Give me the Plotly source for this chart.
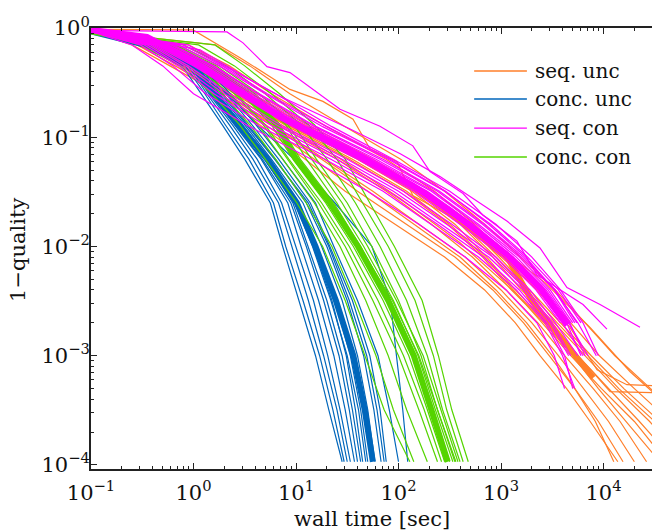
import plotly.graph_objects as go

# ---------------------------------------------------------------------------
# Convergence runs: wall time [s] at which each run reached a quality level.
# ---------------------------------------------------------------------------

# quality levels (1 - quality) sampled for the concurrent solvers
q_conc = [0.93, 0.70, 0.45, 0.25, 0.13, 0.063, 0.025, 0.01, 0.0032, 0.001, 0.00032, 0.000107]
# quality levels sampled for the sequential solvers
q_seq = [0.93, 0.70, 0.45, 0.25, 0.125, 0.063, 0.032, 0.016, 0.008, 0.004, 0.002,
         0.001, 0.0005, 0.00025, 0.000107]

# concurrent, unconstrained
conc_unc_runs = [
    [0.1, 0.295, 0.776, 1.20, 1.91, 3.16, 5.62, 7.41, 10.7, 15.5, 20.9, 28.2],
    [0.1, 0.309, 0.832, 1.29, 2.04, 3.47, 6.03, 7.94, 11.7, 17.0, 22.9, 29.5],
    [0.1, 0.324, 0.891, 1.35, 2.24, 3.80, 6.76, 9.12, 13.2, 18.6, 25.1, 31.6],
    [0.1, 0.302, 0.933, 1.41, 2.40, 4.17, 7.24, 10.0, 14.8, 20.4, 26.9, 33.9],
    [0.1, 0.339, 1.00, 1.48, 2.51, 4.57, 8.32, 11.2, 16.6, 23.4, 30.2, 37.2],
    [0.1, 0.355, 1.05, 1.62, 2.82, 5.01, 9.33, 13.2, 20.0, 28.2, 35.5, 42.7],
    [0.1, 0.331, 1.10, 1.70, 3.02, 5.50, 10.7, 15.8, 24.0, 33.9, 42.7, 50.1],
    [0.1, 0.372, 1.15, 1.78, 3.16, 5.75, 11.7, 17.8, 28.2, 39.8, 50.1, 58.9],
    [0.1, 0.380, 1.17, 1.95, 3.39, 6.31, 12.6, 20.0, 31.6, 45.7, 57.5, 67.6],
    [0.1, 0.398, 1.20, 2.09, 3.72, 6.76, 13.8, 21.4, 35.5, 52.5, 66.1, 75.9],
    [0.1, 0.427, 1.26, 2.29, 4.07, 7.41, 15.5, 23.4, 39.8, 63.1, 81.3, 100.0],
    [0.1, 0.407, 1.17, 2.14, 4.17, 9.55, 24.0, 55.0, 83.2, 95.5, 110.0, 123.0],
    [0.1, 0.347, 1.02, 1.58, 2.69, 4.90, 9.77, 14.5, 21.9, 31.6, 40.7, 47.9],
    [0.1, 0.316, 0.955, 1.45, 2.57, 4.68, 8.91, 12.6, 18.6, 26.3, 33.1, 39.8],
    [0.1, 0.363, 1.07, 1.74, 2.95, 5.25, 10.0, 14.8, 22.4, 30.9, 38.0, 44.7],
    [0.1, 0.389, 1.12, 1.86, 3.31, 6.17, 13.2, 20.9, 33.1, 49.0, 61.7, 72.4],
]
conc_unc_median = [0.1, 0.339, 1.05, 1.55, 2.75, 5.25, 10.2, 15.5, 24.5, 36.3, 46.8, 56.2]

# concurrent, constrained
conc_con_runs = [
    [0.1, 0.302, 0.741, 1.51, 2.82, 5.01, 10.2, 18.2, 30.2, 46.8, 72.4, 129.0],
    [0.1, 0.355, 0.891, 1.91, 3.55, 6.31, 12.6, 22.4, 37.2, 60.3, 89.1, 141.0],
    [0.1, 0.398, 1.05, 2.24, 4.27, 7.41, 15.1, 26.9, 47.9, 79.4, 120.0, 191.0],
    [0.1, 0.447, 1.15, 2.63, 5.01, 8.51, 17.8, 33.1, 63.1, 112.0, 178.0, 263.0],
    [0.1, 0.501, 1.26, 2.95, 5.75, 9.33, 19.5, 36.3, 70.8, 126.0, 191.0, 282.0],
    [0.1, 0.562, 1.38, 3.39, 6.92, 11.0, 23.4, 42.7, 83.2, 145.0, 214.0, 316.0],
    [0.1, 0.603, 1.51, 3.80, 7.94, 12.6, 25.1, 45.7, 89.1, 155.0, 229.0, 339.0],
    [0.1, 0.525, 1.32, 3.16, 6.31, 10.5, 22.4, 41.7, 87.1, 158.0, 240.0, 363.0],
    [0.1, 0.708, 1.78, 4.37, 9.55, 15.8, 31.6, 55.0, 100.0, 166.0, 240.0, 355.0],
    [0.1, 0.794, 2.09, 5.01, 11.2, 20.0, 38.0, 66.1, 120.0, 191.0, 269.0, 398.0],
    [0.1, 1.12, 2.51, 5.75, 13.2, 25.1, 44.7, 79.4, 145.0, 219.0, 295.0, 427.0],
    [0.1, 1.62, 3.16, 6.92, 15.1, 30.2, 52.5, 91.2, 170.0, 245.0, 331.0, 479.0],
    [0.1, 0.479, 1.20, 2.51, 4.79, 8.32, 16.6, 30.2, 56.2, 100.0, 158.0, 240.0],
    [0.1, 0.631, 1.66, 3.98, 8.32, 14.1, 28.2, 50.1, 95.5, 174.0, 257.0, 380.0],
]
conc_con_median = [0.1, 0.60, 1.42, 3.24, 6.53, 10.0, 21.4, 40.3, 79.4, 141.0, 209.0, 302.0]

# sequential, constrained
seq_con_runs = [
    [0.1, 0.251, 0.501, 1.0, 3.55, 14.1, 50.1, 158, 447, 1120, 2240, 3310, 4170],
    [0.1, 0.302, 0.631, 1.32, 4.47, 19.1, 70.8, 209, 603, 1410, 2690, 3980, 5250],
    [0.1, 0.355, 0.759, 1.78, 6.03, 25.1, 89.1, 263, 759, 1660, 3020, 4570],
    [0.1, 0.398, 0.891, 2.24, 7.59, 31.6, 112, 331, 891, 1910, 3390, 5620],
    [0.1, 0.447, 1.05, 2.63, 9.33, 39.8, 141, 398, 1050, 2190, 3800],
    [0.1, 0.501, 1.20, 3.16, 11.2, 50.1, 178, 501, 1260, 2630, 4570, 7080],
    [0.1, 0.525, 1.32, 3.55, 12.6, 56.2, 209, 575, 1410, 2880, 4790],
    [0.1, 0.603, 1.51, 4.17, 15.1, 66.1, 240, 661, 1580, 3310, 5620, 8510],
    [0.1, 0.708, 1.78, 5.01, 18.2, 79.4, 282, 794, 1820, 3630, 6030],
    [0.1, 0.891, 2.0, 6.31, 22.4, 89.1, 316, 891, 2000, 3800, 6310, 8910],
    [0.1, 0.417, 1.0, 2.82, 10.0, 41.7, 151, 437, 1120, 2290, 3980, 6310],
    [0.1, 0.562, 1.41, 3.80, 13.8, 60.3, 219, 603, 1510, 3020, 5010],
    [0.1, 0.331, 0.708, 1.58, 5.25, 21.9, 79.4, 240, 676, 1510, 2820, 4170, 5010],
    [0.1, 0.794, 1.91, 5.25, 20.0, 83.2, 288, 759, 1740, 3310, 5250],
    [0.1, 0.380, 0.832, 2.0, 6.92, 28.2, 100, 295, 832, 1780, 3160, 4790],
    [0.1, 0.468, 1.12, 2.88, 10.0, 43.7, 158, 447, 1150, 2400, 4170],
    [0.1, 0.550, 1.26, 3.39, 12.0, 52.5, 191, 537, 1320, 2750, 4680, 6610],
    [0.1, 0.437, 1.10, 3.02, 10.5, 47.9, 182, 525, 1320, 2690],
    [0.1, 0.501, 1.23, 3.31, 11.5, 50.1, 186, 513, 1290, 2570, 4370, 6030],
    [0.1, 0.631, 1.58, 4.37, 15.8, 70.8, 251, 692, 1660, 3390, 5500],
]
# two slow sequential constrained runs, recorded at their own quality values
seq_con_slow_t = [
    [0.1, 0.925, 2.12, 3.04, 5.21, 8.73, 14.7, 26.9, 65.9, 138, 203, 426, 667, 1430,
     2240, 3520, 6310, 10800],
    [0.1, 1.16, 3.56, 6.98, 33.7, 104, 254, 533, 1150, 2400, 4400, 9250, 22700],
]
seq_con_slow_q = [
    [0.95, 0.92, 0.92, 0.731, 0.443, 0.391, 0.274, 0.180, 0.126, 0.0834, 0.0484,
     0.0305, 0.0193, 0.0112, 0.00551, 0.00421, 0.00294, 0.00175],
    [0.96, 0.631, 0.338, 0.237, 0.119, 0.0705, 0.0436, 0.0275, 0.0170, 0.00969,
     0.00421, 0.00294, 0.00182],
]
seq_con_median_t = [0.1, 0.352, 0.925, 2.84, 6.98, 31.5, 138, 318, 1150, 2400, 4400]
seq_con_median_q = [0.96, 0.829, 0.513, 0.257, 0.153, 0.0782, 0.0361, 0.0214, 0.00837,
                    0.00421, 0.0019]

# sequential, unconstrained
seq_unc_runs = [
    [0.1, 0.251, 0.589, 1.82, 4.68, 12.3, 30.2, 93.3, 282, 692, 1380, 2400, 4370, 7410, 13800],
    [0.1, 0.282, 0.661, 2.0, 5.37, 15.1, 39.8, 120, 355, 832, 1660, 2950, 5250, 8910, 15500],
    [0.1, 0.316, 0.759, 2.14, 6.31, 19.1, 56.2, 158, 447, 1000, 2000, 3630, 6310, 11200, 20000],
    [0.1, 0.355, 0.871, 2.29, 7.24, 25.1, 75.9, 209, 525, 1120, 2290, 4170, 7940, 14500, 26300],
    [0.1, 0.398, 1.0, 2.51, 8.32, 33.1, 112, 302, 661, 1260, 2630, 5010, 8910, 16600, 35500],
    [0.1, 0.447, 1.10, 2.82, 9.55, 39.8, 135, 355, 724, 1380, 2820, 5620, 11200, 22400, 50100],
    [0.1, 0.501, 1.26, 3.31, 11.2, 45.7, 158, 398, 832, 1580, 3310, 6610, 13200, 28200, 63100],
    [0.1, 0.631, 1.58, 4.17, 14.1, 56.2, 182, 457, 955, 1910, 3800, 7590, 15800, 35500, 79400],
    [0.1, 0.891, 2.24, 5.75, 20.0, 75.9, 224, 550, 1170, 2400, 4790, 9120, 20000, 44700, 100000],
    [0.1, 1.62, 3.55, 8.71, 30.2, 105, 282, 692, 1550, 3390, 6610, 12900, 28800, 70800, 174000],
    [0.1, 0.331, 0.794, 2.09, 6.03, 17.8, 50.1, 141, 398, 891, 1780, 3160, 5250, 8320, 12600],
    [0.1, 0.417, 1.05, 2.69, 8.91, 35.5, 120, 316, 692, 1320, 2510, 4790, 9550, 20000, 41700],
    [0.1, 0.562, 1.41, 3.72, 12.6, 50.1, 166, 417, 891, 1780, 3550, 7080, 14100, 31600, 70800],
]
# runs that stall late or start slowly, recorded at their own quality values
seq_unc_extra_t = [
    [0.1, 0.738, 2.27, 8.73, 33.7, 162, 624, 1920, 4710, 8650, 16900, 87300],
    [0.1, 0.59, 1.82, 6.98, 26.9, 104, 398, 1370, 3770, 7380, 11600, 87300],
    [0.1, 0.989, 2.84, 8.73, 18.3, 36.0, 52.7, 96.6, 138, 318, 977, 2690, 7380, 18200, 55700],
]
seq_unc_extra_q = [
    [0.94, 0.673, 0.324, 0.153, 0.0782, 0.0306, 0.0119, 0.00467, 0.00182, 0.000743,
     0.000543, 0.000510],
    [0.90, 0.606, 0.286, 0.132, 0.0635, 0.0275, 0.0108, 0.00379, 0.00148, 0.000759,
     0.000469, 0.00045],
    [0.97, 0.96, 0.535, 0.274, 0.213, 0.146, 0.0782, 0.0597, 0.0293, 0.0189, 0.00969,
     0.00467, 0.00182, 0.000713, 0.000278],
]
seq_unc_median_t = [0.1, 0.352, 0.925, 2.84, 6.98, 31.5, 138, 318, 1150, 2050, 4400, 7910]
seq_unc_median_q = [0.95, 0.81, 0.50, 0.25, 0.148, 0.076, 0.035, 0.0205, 0.0080,
                    0.00307, 0.00125, 0.000628]

# axis ticks and legend
x_tickvals = [0.1, 1, 10, 100, 1000, 10000]
x_ticktext = ["10<sup>−1</sup>", "10<sup>0</sup>", "10<sup>1</sup>", "10<sup>2</sup>",
              "10<sup>3</sup>", "10<sup>4</sup>"]
y_tickvals = [1e-4, 1e-3, 1e-2, 1e-1, 1]
y_ticktext = ["10<sup>−4</sup>", "10<sup>−3</sup>", "10<sup>−2</sup>", "10<sup>−1</sup>",
              "10<sup>0</sup>"]
legend_labels = ["seq. unc", "conc. unc", "seq. con", "conc. con"]

ORANGE = "#FF7F2A"
BLUE = "#0066BB"
MAGENTA = "#FF00FF"
GREEN = "#55D400"
FONT = "DejaVu Serif"
THIN = 1.2
THICK = 6

fig = go.Figure()


def add_line(t, q, color, width):
    fig.add_trace(go.Scatter(x=t, y=q, mode="lines",
                             line=dict(color=color, width=width),
                             showlegend=False, hoverinfo="skip"))


# each solver in turn: its individual runs, then its median run drawn thick
for t in seq_unc_runs:
    add_line(t, q_seq[:len(t)], ORANGE, THIN)
for t, q in zip(seq_unc_extra_t, seq_unc_extra_q):
    add_line(t, q, ORANGE, THIN)
add_line(seq_unc_median_t, seq_unc_median_q, ORANGE, THICK)

for t in conc_unc_runs:
    add_line(t, q_conc[:len(t)], BLUE, THIN)
add_line(conc_unc_median, q_conc[:len(conc_unc_median)], BLUE, THICK)

for t in conc_con_runs:
    add_line(t, q_conc[:len(t)], GREEN, THIN)
add_line(conc_con_median, q_conc[:len(conc_con_median)], GREEN, THICK)

for t in seq_con_runs:
    add_line(t, q_seq[:len(t)], MAGENTA, THIN)
for t, q in zip(seq_con_slow_t, seq_con_slow_q):
    add_line(t, q, MAGENTA, THIN)
add_line(seq_con_median_t, seq_con_median_q, MAGENTA, THICK)

# hand-placed legend (long line samples, no frame)
legend_colors = [ORANGE, BLUE, MAGENTA, GREEN]
legend_rows_y = [0.9025, 0.839, 0.773, 0.7075]
for label, color, yy in zip(legend_labels, legend_colors, legend_rows_y):
    fig.add_shape(type="line", xref="paper", yref="paper", x0=0.683, x1=0.777,
                  y0=yy, y1=yy, line=dict(color=color, width=1.3))
    fig.add_annotation(xref="paper", yref="paper", x=0.788, y=yy, text=label,
                       showarrow=False, xanchor="left", yanchor="middle",
                       font=dict(family=FONT, size=20, color="#111"))

# axis titles
fig.add_annotation(xref="paper", yref="paper", x=0.5, y=-0.114, text="wall time [sec]",
                   showarrow=False, xanchor="center", yanchor="middle",
                   font=dict(family=FONT, size=21, color="#111"))
fig.add_annotation(xref="paper", yref="paper", x=-0.130, y=0.497, text="1−quality",
                   textangle=-90, showarrow=False, xanchor="center", yanchor="middle",
                   font=dict(family=FONT, size=21, color="#111"))

axis_common = dict(
    type="log", showgrid=False, zeroline=False,
    showline=True, linecolor="#222", linewidth=2,
    ticks="inside", ticklen=6, tickwidth=1.3, tickcolor="#222",
    tickfont=dict(family=FONT, size=21, color="#111"),
    tickmode="array",
    minor=dict(ticks="inside", ticklen=3, tickwidth=1, tickcolor="#222",
               dtick="D1", showgrid=False),
)

fig.update_xaxes(range=[-1, 4.473], tickvals=x_tickvals, ticktext=x_ticktext,
                 mirror="ticks", ticklabelstandoff=4, **axis_common)
fig.update_yaxes(range=[-4.037, 0], tickvals=y_tickvals, ticktext=y_ticktext,
                 mirror=False, ticklabelstandoff=-5, **axis_common)

fig.update_layout(
    width=652, height=531,
    margin=dict(l=91, r=0, t=28, b=62),
    paper_bgcolor="white", plot_bgcolor="white",
    showlegend=False,
)

fig.write_html("out.html")
